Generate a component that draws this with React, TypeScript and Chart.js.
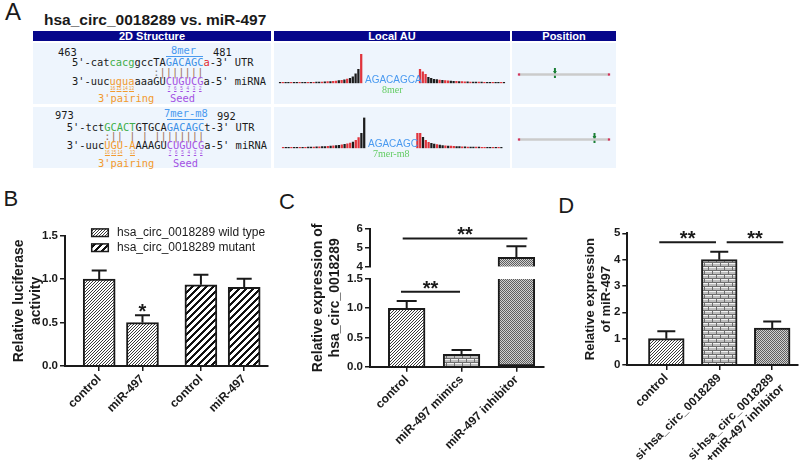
import React, { useEffect, useRef } from 'react';
import { Chart, registerables } from 'chart.js';

Chart.register(...registerables);

const SANS = "'Liberation Sans', Arial, Helvetica, sans-serif";
const MONO = "'DejaVu Sans Mono', 'Liberation Mono', monospace";
const SERIF = "'Liberation Serif', 'Times New Roman', serif";
const INK = '#1a1a1a';
const NAVY = '#06068a';
const ROWBG = '#eef5fd';
const GREEN = '#3fae49';
const BLUE = '#3b8fe6';
const RED = '#e3262d';
const ORANGE = '#f29a2e';
const PURPLE = '#a451e3';
const PAIR = '#a07458';

// ---------------- Panel A data ----------------
const utrLength = 1160;
const siteStarts = [463, 973];
const siteEnds = [481, 992];
const siteTypes = ['8mer', '7mer-m8'];
const siteMatch = ['AGACAGCA', 'AGACAGC'];

// local AU bar heights (left flank far->near, right flank near->far); r = A/U (red), k = other
const au1Left = [1, 1, 1, 1, 1, 1, 1, 1, 1, 1, 1, 1, 1, 1.2, 1.2, 1.3, 1.4, 1.6, 1.8, 2, 2.3, 2.6, 3, 3.5, 4.2, 5, 6.5, 9.5, 14, 29];
const au1LeftKind = 'krkkrkkrkkrkrkkrkrkrrkrkrkkkkr';
const au1Right = [14, 11.5, 9, 6, 5, 4, 3.7, 3.3, 3, 2.7, 2.4, 2.2, 2, 1.9, 1.8, 1.6, 1.5, 1.4, 1.3, 1.2, 1.2, 1.1, 1.1, 1, 1, 1, 1, 1, 1, 1, 1];
const au1RightKind = 'rrrkkkkrkrrkkrkrrkrkkrkrkkrkkrk';
const au2Left = [1, 1, 1, 1, 1, 1, 1, 1, 1, 1.1, 1.2, 1.3, 1.4, 1.5, 1.6, 1.8, 2, 2.2, 2.4, 2.7, 3, 3.4, 3.9, 4.5, 5.2, 6.2, 8, 10.7, 15, 30.5];
const au2LeftKind = 'rkkrkkrkrkkrkrkkrkrkkrkrrkrrkk';
const au2Right = [15, 15, 11, 8, 6, 5, 4.2, 3.6, 3.2, 2.8, 2.5, 2.3, 2.1, 1.9, 1.8, 1.6, 1.5, 1.4, 1.3, 1.2, 1.2, 1.1, 1.1, 1, 1, 1, 1, 1, 1, 1, 1];
const au2RightKind = 'rrkrrkkrkkrkrrkkrkrkkrkrrkkrkrk';

// ---------------- Panel B data ----------------
const bLabels = ['control', 'miR-497', 'control', 'miR-497'];
const bLegend = ['hsa_circ_0018289 wild type', 'hsa_circ_0018289 mutant'];
const bWild = [1.0, 0.5];
const bWildErr = [0.1, 0.085];
const bMut = [0.935, 0.905];
const bMutErr = [0.115, 0.1];
const bTicks = [0, 0.5, 1.0, 1.5];
const bTitle = ['Relative luciferase', 'activity'];

// ---------------- Panel C data ----------------
const cLabels = ['control', 'miR-497 mimics', 'miR-497 inhibitor'];
const cValues = [1.0, 0.21, 4.5];
const cErrors = [0.125, 0.075, 0.58];
const cLowTicks = [0, 0.5, 1.0, 1.5];
const cHighTicks = [4, 5, 6];
const cTitle = ['Relative expression of', 'hsa_circ_0018289'];

// ---------------- Panel D data ----------------
const dLabels: (string | string[])[] = ['control', 'si-hsa_circ_0018289', ['si-hsa_circ_0018289', '+miR-497 inhibitor']];
const dValues = [1.0, 4.0, 1.4];
const dErrors = [0.28, 0.3, 0.25];
const dTicks = [0, 1, 2, 3, 4, 5];
const dTitle = ['Relative expression', 'of miR-497'];

// layout positions of bars along the x axes
const bX = [1, 2, 3.35, 4.35];
const cX = [1, 2, 3];
const dX = [1, 2, 3];

// significance annotations (x in bar-position units)
const cSig = [
  { from: 0.927, to: 3.199, y: 5.5, axis: 'yHi', text: '**' },
  { from: 0.896, to: 1.972, y: 1.283, axis: 'yLo', text: '**' },
];
const dSig = [
  { from: 0.867, to: 1.938, y: 4.66, axis: 'y', text: '**' },
  { from: 2.14, to: 3.209, y: 4.66, axis: 'y', text: '**' },
];

// ---------------- helpers ----------------
function makePattern(kind: string): CanvasPattern | string {
  const c = document.createElement('canvas');
  const g = c.getContext('2d');
  if (!g) return '#ccc';
  if (kind === 'fine') {
    c.width = 3; c.height = 3;
    g.fillStyle = '#ffffff'; g.fillRect(0, 0, 3, 3);
    g.fillStyle = '#3a3a3a';
    for (let i = 0; i < 3; i++) g.fillRect(i, 2 - i, 1, 1);
  } else if (kind === 'thick') {
    c.width = 7; c.height = 7;
    g.fillStyle = '#ffffff'; g.fillRect(0, 0, 7, 7);
    g.fillStyle = '#111111';
    for (let y = 0; y < 7; y++) for (let k = 0; k < 3; k++) g.fillRect((6 - y + k + 7) % 7, y, 1, 1);
  } else if (kind === 'brick') {
    c.width = 8; c.height = 8;
    g.fillStyle = '#bdbdbd'; g.fillRect(0, 0, 8, 8);
    g.fillStyle = '#6e6e6e';
    g.fillRect(0, 0, 8, 1); g.fillRect(0, 4, 8, 1);
    g.fillRect(0, 1, 1, 3); g.fillRect(4, 5, 1, 3);
    g.fillStyle = '#f2f2f2';
    g.fillRect(1, 1, 7, 1); g.fillRect(0, 5, 4, 1); g.fillRect(5, 5, 3, 1);
  } else {
    c.width = 2; c.height = 2;
    g.fillStyle = '#d0d0d0'; g.fillRect(0, 0, 2, 2);
    g.fillStyle = '#5e5e5e'; g.fillRect(0, 0, 1, 1); g.fillRect(1, 1, 1, 1);
  }
  return g.createPattern(c, 'repeat') || '#ccc';
}

const labelFont = { family: SANS, size: 12, weight: 'bold' as const };
const tickFont = { family: SANS, size: 11.5, weight: 'bold' as const };

function xAxis(positions: number[], labels: any[], min: number, max: number, height: number) {
  return {
    type: 'linear', min, max, offset: false, bounds: 'data',
    afterBuildTicks: (s: any) => { s.ticks = positions.map((v) => ({ value: v })); },
    afterFit: (s: any) => { s.height = height; s.paddingLeft = 0; s.paddingRight = 0; },
    ticks: { autoSkip: false, minRotation: 45, maxRotation: 45, padding: 1, color: INK, font: labelFont, callback: (_v: any, i: number) => labels[i] },
    grid: { display: true, offset: false, drawOnChartArea: false, drawTicks: true, tickLength: 5, color: INK, lineWidth: 1.5, z: 1 },
    border: { display: true, color: INK, width: 2, z: 1 },
  };
}

function yAxis(min: number, max: number, ticks: number[], fmt: (v: number) => string, width: number, extra: any = {}) {
  return {
    type: 'linear', position: 'left', min, max,
    afterBuildTicks: (s: any) => { s.ticks = ticks.map((v) => ({ value: v })); },
    afterFit: (s: any) => { s.width = width; s.paddingTop = 0; s.paddingBottom = 0; },
    ticks: { autoSkip: false, color: INK, font: tickFont, padding: 2, callback: (v: any) => fmt(Number(v)) },
    grid: { display: true, drawOnChartArea: false, drawTicks: true, tickLength: 5, color: INK, lineWidth: 1.5, z: 1 },
    border: { display: true, color: INK, width: 2, z: 1 },
    ...extra,
  };
}

type Err = { x: number; v: number; e: number; axis: string };
function errorPlugin(items: Err[], cap: number) {
  return {
    id: 'errbars',
    afterDatasetsDraw(chart: any) {
      const ctx = chart.ctx; const xs = chart.scales.x;
      ctx.save(); ctx.strokeStyle = INK; ctx.lineWidth = 2;
      items.forEach((it) => {
        const ys = chart.scales[it.axis];
        const px = xs.getPixelForValue(it.x);
        const y0 = ys.getPixelForValue(it.v); const y1 = ys.getPixelForValue(it.v + it.e);
        ctx.beginPath(); ctx.moveTo(px, y0); ctx.lineTo(px, y1);
        ctx.moveTo(px - cap / 2, y1); ctx.lineTo(px + cap / 2, y1); ctx.stroke();
      });
      ctx.restore();
    },
  };
}

type Sig = { from: number; to: number; y: number; axis: string; text: string };
function sigPlugin(items: Sig[]) {
  return {
    id: 'sig',
    afterDraw(chart: any) {
      const ctx = chart.ctx; const xs = chart.scales.x;
      ctx.save(); ctx.strokeStyle = INK; ctx.fillStyle = INK; ctx.lineWidth = 2;
      ctx.font = `bold 20px ${SANS}`; ctx.textAlign = 'center'; ctx.textBaseline = 'alphabetic';
      items.forEach((s) => {
        const ys = chart.scales[s.axis];
        const x1 = xs.getPixelForValue(s.from); const x2 = xs.getPixelForValue(s.to);
        const y = ys.getPixelForValue(s.y);
        ctx.beginPath(); ctx.moveTo(x1, y); ctx.lineTo(x2, y); ctx.stroke();
        ctx.fillText(s.text, (x1 + x2) / 2, y + 3);
      });
      ctx.restore();
    },
  };
}

function auConfig(left: number[], leftKind: string, gap: number, right: number[], rightKind: string, padL: number, padR: number): any {
  const values: (number | null)[] = [...left, ...new Array(gap).fill(null), ...right];
  const kinds = leftKind + ' '.repeat(gap) + rightKind;
  const colors = kinds.split('').map((k) => (k === 'r' ? '#e0343c' : '#1c1c1c'));
  return {
    type: 'bar',
    data: { labels: values.map(() => ''), datasets: [{ data: values, backgroundColor: colors, barThickness: 1.6, borderWidth: 0 }] },
    options: {
      responsive: false, animation: false, events: [],
      layout: { padding: { left: padL, right: padR, top: 7.3, bottom: 1.7 } },
      plugins: { legend: { display: false }, tooltip: { enabled: false } },
      scales: { x: { display: false }, y: { display: false, min: 0, max: 31 } },
    },
  };
}

function posConfig(site: number): any {
  return {
    type: 'line',
    data: {
      datasets: [
        { data: [{ x: 0, y: 0 }, { x: utrLength, y: 0 }], borderColor: '#cbcbcb', borderWidth: 2.5, pointStyle: 'rect', pointRadius: 1.6, pointBackgroundColor: '#d2345a', pointBorderWidth: 0, clip: false },
        { data: [{ x: site, y: 1 }], showLine: false, pointStyle: 'line', pointRotation: 90, pointRadius: 5, pointBorderColor: '#1b7f36', pointBorderWidth: 2, clip: false },
        { data: [{ x: site, y: 1.6 }], showLine: false, pointStyle: 'triangle', pointRotation: 180, pointRadius: 2.2, pointBackgroundColor: '#1b7f36', pointBorderWidth: 0, clip: false },
      ],
    },
    options: {
      responsive: false, animation: false, events: [],
      layout: { padding: { left: 3, right: 3, top: 0, bottom: 0 } },
      plugins: { legend: { display: false }, tooltip: { enabled: false } },
      scales: { x: { type: 'linear', display: false, min: 0, max: utrLength }, y: { display: false, min: -1, max: 3 } },
    },
  };
}

// ---------------- small HTML pieces ----------------
type Seg = [string, string];
function SeqLine({ x, y, segs, size = 10.4 }: { x: number; y: number; segs: Seg[]; size?: number }) {
  return (
    <div style={{ position: 'absolute', left: x, top: y, font: `${size}px ${MONO}`, lineHeight: '12px', whiteSpace: 'pre' }}>
      {segs.map(([t, c], i) => <span key={i} style={{ color: c }}>{t}</span>)}
    </div>
  );
}
function Txt({ x, y, children, style }: { x: number; y: number; children: any; style?: any }) {
  return <div style={{ position: 'absolute', left: x, top: y, whiteSpace: 'pre', ...style }}>{children}</div>;
}
const CW = 10.4 * 0.602;
function Tiny({ x0, idx, labels, color, y }: { x0: number; idx: number[]; labels: string[]; color: string; y: number }) {
  return (
    <>
      {idx.map((k, i) => (
        <div key={i} style={{ position: 'absolute', left: x0 + k * CW, top: y, width: CW, textAlign: 'center', font: `4.5px ${SANS}`, lineHeight: '5px', color, textDecoration: 'underline' }}>{labels[i]}</div>
      ))}
    </>
  );
}

const row1Utr: Seg[] = [["5'-cat", INK], ['cacg', GREEN], ['gccTA', INK], ['GACAGC', BLUE], ['a', RED], ["-3' UTR", INK]];
const row1Pair: Seg[] = [['             ', INK], [':', '#8a8a8a'], ['|||||||', PAIR]];
const row1Mir: Seg[] = [["3'-uuc", INK], ['ugua', ORANGE], ['aaaGU', INK], ['CUGUCG', PURPLE], ["a-5' miRNA", INK]];
const row2Utr: Seg[] = [["5'-tct", INK], ['GCACT', GREEN], ['GTGCA', INK], ['GACAGC', BLUE], ["t-3' UTR", INK]];
const row2Pair: Seg[] = [['      ', INK], [':', PAIR], ['|| | | ||||||||', PAIR]];
const row2Mir: Seg[] = [["3'-uuc", INK], ['UGU-A', ORANGE], ['AAAGU', INK], ['CUGUCG', PURPLE], ["a-5' miRNA", INK]];

export default function App() {
  const au1 = useRef<HTMLCanvasElement>(null);
  const au2 = useRef<HTMLCanvasElement>(null);
  const pos1 = useRef<HTMLCanvasElement>(null);
  const pos2 = useRef<HTMLCanvasElement>(null);
  const bRef = useRef<HTMLCanvasElement>(null);
  const cRef = useRef<HTMLCanvasElement>(null);
  const dRef = useRef<HTMLCanvasElement>(null);

  useEffect(() => {
    const charts: Chart[] = [];
    const pFine = makePattern('fine');
    const pThick = makePattern('thick');
    const pBrick = makePattern('brick');
    const pCheck = makePattern('check');

    charts.push(new Chart(au1.current!, auConfig(au1Left, au1LeftKind, 20, au1Right, au1RightKind, 5.6, 4.6)));
    charts.push(new Chart(au2.current!, auConfig(au2Left, au2LeftKind, 18, au2Right, au2RightKind, 8.6, 7.2)));
    charts.push(new Chart(pos1.current!, posConfig(siteStarts[0])));
    charts.push(new Chart(pos2.current!, posConfig(siteStarts[1])));

    // ---- Panel B ----
    const bLegendPlugin = {
      id: 'bLegend',
      afterDraw(chart: any) {
        const ctx = chart.ctx; const a = chart.chartArea;
        ctx.save();
        ctx.font = `12px ${SANS}`; ctx.textBaseline = 'middle'; ctx.textAlign = 'left';
        bLegend.forEach((t, i) => {
          const cy = a.top - 3 + i * 15;
          const bx = a.left + 26.7;
          ctx.fillStyle = chart.data.datasets[i].backgroundColor;
          ctx.fillRect(bx, cy - 3.8, 16.6, 7.6);
          ctx.strokeStyle = INK; ctx.lineWidth = 1.5;
          ctx.strokeRect(bx, cy - 3.8, 16.6, 7.6);
          ctx.fillStyle = INK;
          ctx.fillText(t, a.left + 52, cy);
        });
        const xs = chart.scales.x; const ys = chart.scales.y;
        ctx.font = `bold 20px ${SANS}`; ctx.textAlign = 'center'; ctx.textBaseline = 'alphabetic';
        ctx.fillText('*', xs.getPixelForValue(bX[1]), ys.getPixelForValue(bWild[1] + bWildErr[1]) + 3);
        ctx.restore();
      },
    };
    const bErr: Err[] = [
      ...bWild.map((v, i) => ({ x: bX[i], v, e: bWildErr[i], axis: 'y' })),
      ...bMut.map((v, i) => ({ x: bX[i + 2], v, e: bMutErr[i], axis: 'y' })),
    ];
    charts.push(new Chart(bRef.current!, {
      type: 'bar',
      data: {
        datasets: [
          { label: bLegend[0], data: bWild.map((v, i) => ({ x: bX[i], y: v })), backgroundColor: pFine, borderColor: INK, borderWidth: 2, grouped: false, barThickness: 32 },
          { label: bLegend[1], data: bMut.map((v, i) => ({ x: bX[i + 2], y: v })), backgroundColor: pThick, borderColor: INK, borderWidth: 2, grouped: false, barThickness: 32 },
        ],
      } as any,
      options: {
        responsive: false, animation: false, events: [],
        layout: { padding: { left: 0, right: 2, top: 65.7, bottom: 0 } },
        plugins: { legend: { display: false }, tooltip: { enabled: false } },
        scales: {
          x: xAxis(bX, bLabels, 0.21, 4.9, 94),
          y: yAxis(0, 1.5, bTicks, (v) => v.toFixed(1), 65, {
            title: { display: true, text: bTitle, color: INK, font: { family: SANS, size: 14, weight: 'bold', lineHeight: 1.2 }, padding: { top: 10.6, bottom: 0 } },
          }),
        },
      } as any,
      plugins: [errorPlugin(bErr, 15), bLegendPlugin],
    }));

    // ---- Panel C (broken axis) ----
    const cLowMax = cLowTicks[cLowTicks.length - 1];
    const cHighMin = cHighTicks[0];
    const cFills = [pFine, pBrick, pCheck];
    const cErr: Err[] = cValues.map((v, i) => ({ x: cX[i], v, e: cErrors[i], axis: v > cHighMin ? 'yHi' : 'yLo' }));
    const cHighIdx = cValues.map((_v, i) => i).filter((i) => cValues[i] > cHighMin);
    const cTitlePlugin = {
      id: 'cTitle',
      afterDraw(chart: any) {
        const ctx = chart.ctx; const a = chart.chartArea;
        ctx.save();
        ctx.translate(48, (a.top + a.bottom) / 2);
        ctx.rotate(-Math.PI / 2);
        ctx.font = `bold 14px ${SANS}`; ctx.fillStyle = INK; ctx.textAlign = 'center'; ctx.textBaseline = 'middle';
        cTitle.forEach((t, i) => ctx.fillText(t, 0, i * 16.8));
        ctx.restore();
      },
    };
    charts.push(new Chart(cRef.current!, {
      type: 'bar',
      data: {
        datasets: [
          {
            data: cValues.map((v, i) => ({ x: cX[i], y: Math.min(v, cLowMax) })), yAxisID: 'yLo', xAxisID: 'x',
            backgroundColor: cFills, borderColor: INK, borderWidth: 2, grouped: false, barThickness: 36.7,
            borderSkipped: (ctx: any) => (cValues[ctx.dataIndex] > cLowMax ? 'top' : 'start'),
          },
          {
            data: cHighIdx.map((i) => ({ x: cX[i], y: [cHighMin, cValues[i]] })), yAxisID: 'yHi', xAxisID: 'x',
            backgroundColor: cHighIdx.map((i) => cFills[i]), borderColor: INK, borderWidth: 2, grouped: false, barThickness: 36.7,
            borderSkipped: 'start',
          },
        ],
      } as any,
      options: {
        responsive: false, animation: false, events: [],
        layout: { padding: { left: 0, right: 4.5, top: 59, bottom: 0 } },
        plugins: { legend: { display: false }, tooltip: { enabled: false } },
        scales: {
          x: xAxis(cX, cLabels, 0.331, 3.494, 93.3),
          yLo: yAxis(0, cLowMax, cLowTicks, (v) => v.toFixed(1), 100, { stack: 'c', stackWeight: 87.7 }),
          yGap: { type: 'linear', position: 'left', stack: 'c', stackWeight: 12.3, display: false, afterFit: (s: any) => { s.width = 100; } },
          yHi: yAxis(cHighMin, 6, cHighTicks, (v) => String(Math.round(v)), 100, { stack: 'c', stackWeight: 37.7 }),
        },
      } as any,
      plugins: [errorPlugin(cErr, 20), sigPlugin(cSig), cTitlePlugin],
    }));

    // ---- Panel D ----
    const dErr: Err[] = dValues.map((v, i) => ({ x: dX[i], v, e: dErrors[i], axis: 'y' }));
    charts.push(new Chart(dRef.current!, {
      type: 'bar',
      data: {
        datasets: [
          { data: dValues.map((v, i) => ({ x: dX[i], y: v })), backgroundColor: [pFine, pBrick, pCheck], borderColor: INK, borderWidth: 2, grouped: false, barThickness: 35.7 },
        ],
      } as any,
      options: {
        responsive: false, animation: false, events: [],
        layout: { padding: { left: 0, right: 2, top: 63.3, bottom: 0 } },
        plugins: { legend: { display: false }, tooltip: { enabled: false } },
        scales: {
          x: xAxis(dX, dLabels, 0.263, 3.487, 95),
          y: yAxis(0, 5, dTicks, (v) => String(Math.round(v)), 79.3, {
            title: { display: true, text: dTitle, color: INK, font: { family: SANS, size: 13, weight: 'bold', lineHeight: 1.28 }, padding: { top: 33.7, bottom: 0 } },
          }),
        },
      } as any,
      plugins: [errorPlugin(dErr, 18), sigPlugin(dSig)],
    }));

    return () => charts.forEach((c) => c.destroy());
  }, []);

  const mono = { font: `10.4px ${MONO}`, lineHeight: '12px', color: INK };
  const canvasStyle = (l: number, t: number) => ({ position: 'absolute' as const, left: l, top: t });

  return (
    <div style={{ position: 'fixed', left: 0, top: 0, width: 800, height: 460, background: '#fff', overflow: 'hidden', fontFamily: SANS, color: INK }}>
      <Txt x={5} y={0} style={{ font: `24px ${SANS}`, lineHeight: '24px' }}>A</Txt>
      <Txt x={3.5} y={188} style={{ font: `22px ${SANS}`, lineHeight: '22px' }}>B</Txt>
      <Txt x={279} y={190.5} style={{ font: `22px ${SANS}`, lineHeight: '22px' }}>C</Txt>
      <Txt x={558.3} y={195.4} style={{ font: `22px ${SANS}`, lineHeight: '22px' }}>D</Txt>

      <Txt x={44} y={12} style={{ font: `bold 15.5px ${SANS}`, lineHeight: '15.5px' }}>hsa_circ_0018289 vs. miR-497</Txt>
      <div style={{ position: 'absolute', left: 33, top: 31, width: 238, height: 10, background: NAVY, color: '#fff', font: `bold 11px ${SANS}`, lineHeight: '10px', textAlign: 'center' }}>2D Structure</div>
      <div style={{ position: 'absolute', left: 274, top: 31, width: 236, height: 10, background: NAVY, color: '#fff', font: `bold 11px ${SANS}`, lineHeight: '10px', textAlign: 'center' }}>Local AU</div>
      <div style={{ position: 'absolute', left: 512, top: 31, width: 104, height: 10, background: NAVY, color: '#fff', font: `bold 11px ${SANS}`, lineHeight: '10px', textAlign: 'center' }}>Position</div>
      {[43, 107].map((t) => (
        <React.Fragment key={t}>
          <div style={{ position: 'absolute', left: 33, top: t, width: 238, height: 61, background: ROWBG }} />
          <div style={{ position: 'absolute', left: 274, top: t, width: 236, height: 61, background: ROWBG }} />
          <div style={{ position: 'absolute', left: 512, top: t, width: 104, height: 61, background: ROWBG }} />
        </React.Fragment>
      ))}

      <Txt x={58} y={46} style={mono}>{String(siteStarts[0])}</Txt>
      <Txt x={213} y={46} style={mono}>{String(siteEnds[0])}</Txt>
      <Txt x={171} y={44} style={{ ...mono, color: '#4a9af0' }}>{siteTypes[0]}</Txt>
      <div style={{ position: 'absolute', left: 72 + 15 * CW, top: 56, width: 6 * CW, height: 1, background: '#4a9af0' }} />
      <SeqLine x={72} y={56} segs={row1Utr} />
      <SeqLine x={72} y={66} segs={row1Pair} />
      <SeqLine x={72} y={75} segs={row1Mir} />
      <Tiny x0={72} idx={[6, 7, 8, 9]} labels={['16', '15', '14', '13']} color={ORANGE} y={86} />
      <Tiny x0={72} idx={[15, 16, 17, 18, 19, 20]} labels={['7', '6', '5', '4', '3', '2']} color={PURPLE} y={86} />
      <Txt x={98} y={92} style={{ ...mono, color: ORANGE }}>3'pairing</Txt>
      <Txt x={170} y={92} style={{ ...mono, color: PURPLE }}>Seed</Txt>

      <Txt x={55} y={109} style={mono}>{String(siteStarts[1])}</Txt>
      <Txt x={217} y={110} style={mono}>{String(siteEnds[1])}</Txt>
      <Txt x={164} y={107} style={{ ...mono, color: '#4a9af0' }}>{siteTypes[1]}</Txt>
      <div style={{ position: 'absolute', left: 66.7 + 16 * CW, top: 119, width: 6 * CW, height: 1, background: '#4a9af0' }} />
      <SeqLine x={66.7} y={121} segs={row2Utr} />
      <SeqLine x={66.7} y={129.5} segs={row2Pair} />
      <SeqLine x={66.7} y={139} segs={row2Mir} />
      <Tiny x0={66.7} idx={[6, 7, 8, 10]} labels={['16', '15', '14', '13']} color={ORANGE} y={150} />
      <Tiny x0={66.7} idx={[16, 17, 18, 19, 20, 21]} labels={['7', '6', '5', '4', '3', '2']} color={PURPLE} y={150} />
      <Txt x={98} y={157} style={{ ...mono, color: ORANGE }}>3'pairing</Txt>
      <Txt x={173} y={157} style={{ ...mono, color: PURPLE }}>Seed</Txt>

      <canvas ref={au1} width={237} height={40} style={canvasStyle(273, 45)} />
      <canvas ref={au2} width={237} height={40} style={canvasStyle(273, 110)} />
      <Txt x={365} y={74} style={{ font: `10px ${SANS}`, lineHeight: '12px', color: '#4a9af0' }}>{siteMatch[0]}</Txt>
      <Txt x={382} y={84} style={{ font: `10px ${SERIF}`, lineHeight: '12px', color: '#62cc62' }}>{siteTypes[0]}</Txt>
      <Txt x={368} y={138} style={{ font: `10px ${SANS}`, lineHeight: '12px', color: '#4a9af0' }}>{siteMatch[1]}</Txt>
      <Txt x={373} y={148} style={{ font: `10px ${SERIF}`, lineHeight: '12px', color: '#62cc62' }}>{siteTypes[1]}</Txt>

      <canvas ref={pos1} width={104} height={20} style={canvasStyle(512, 63)} />
      <canvas ref={pos2} width={104} height={20} style={canvasStyle(512, 128)} />

      <canvas ref={bRef} width={270} height={290} style={canvasStyle(0, 170)} />
      <canvas ref={cRef} width={278} height={290} style={canvasStyle(270, 170)} />
      <canvas ref={dRef} width={252} height={290} style={canvasStyle(548, 170)} />
    </div>
  );
}
